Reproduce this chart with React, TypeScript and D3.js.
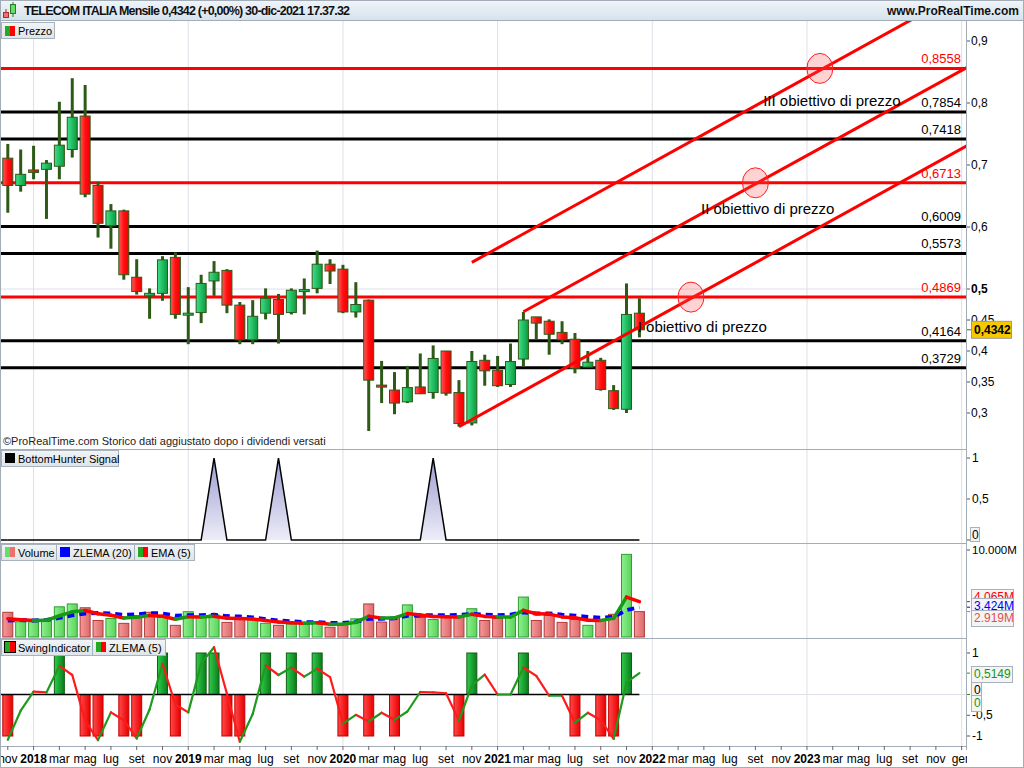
import React from 'react';
import * as d3 from 'd3';

const FONT = "'Liberation Sans', Arial, Helvetica, sans-serif";

// ---------- DATA ----------
const months = [
  'nov 2017','dic 2017',
  'gen 2018','feb 2018','mar 2018','apr 2018','mag 2018','giu 2018','lug 2018','ago 2018','set 2018','ott 2018','nov 2018','dic 2018',
  'gen 2019','feb 2019','mar 2019','apr 2019','mag 2019','giu 2019','lug 2019','ago 2019','set 2019','ott 2019','nov 2019','dic 2019',
  'gen 2020','feb 2020','mar 2020','apr 2020','mag 2020','giu 2020','lug 2020','ago 2020','set 2020','ott 2020','nov 2020','dic 2020',
  'gen 2021','feb 2021','mar 2021','apr 2021','mag 2021','giu 2021','lug 2021','ago 2021','set 2021','ott 2021','nov 2021','dic 2021',
];

const opens = [0.711,0.667,0.692,0.693,0.698,0.725,0.779,0.667,0.602,0.626,0.519,0.489,0.493,0.551,0.460,0.462,0.513,0.530,0.474,0.418,0.461,0.483,0.462,0.498,0.501,0.540,0.532,0.463,0.482,0.345,0.337,0.318,0.342,0.333,0.400,0.333,0.284,0.385,0.369,0.346,0.387,0.455,0.448,0.430,0.419,0.374,0.385,0.336,0.306,0.461];
const highs = [0.734,0.725,0.731,0.708,0.802,0.840,0.829,0.673,0.637,0.628,0.548,0.501,0.553,0.559,0.503,0.523,0.545,0.532,0.479,0.482,0.501,0.492,0.501,0.517,0.562,0.548,0.539,0.511,0.483,0.384,0.366,0.376,0.396,0.409,0.400,0.353,0.400,0.394,0.392,0.412,0.463,0.455,0.451,0.448,0.429,0.400,0.389,0.345,0.509,0.485];
const lows = [0.623,0.657,0.677,0.613,0.677,0.712,0.648,0.583,0.565,0.515,0.491,0.452,0.481,0.452,0.411,0.445,0.489,0.461,0.411,0.411,0.451,0.412,0.459,0.459,0.493,0.508,0.461,0.454,0.271,0.316,0.298,0.316,0.331,0.323,0.328,0.278,0.280,0.344,0.342,0.342,0.375,0.418,0.394,0.411,0.364,0.374,0.336,0.305,0.300,0.422];
const closes = [0.667,0.685,0.688,0.703,0.732,0.777,0.653,0.606,0.626,0.523,0.496,0.493,0.547,0.459,0.461,0.509,0.527,0.474,0.418,0.456,0.485,0.459,0.498,0.499,0.540,0.529,0.463,0.475,0.353,0.344,0.316,0.341,0.331,0.388,0.332,0.283,0.383,0.368,0.344,0.383,0.450,0.445,0.427,0.418,0.372,0.382,0.338,0.307,0.459,0.4342];

// volume in millions
const volumes = [2.84,1.75,1.75,1.94,3.47,3.8,3.36,1.9,2.13,1.57,2.46,2.84,2.24,1.34,2.91,2.24,2.54,1.68,2.09,1.94,1.57,1.34,1.49,1.46,1.75,1.12,1.46,2.09,3.8,1.72,2.24,3.69,2.24,2.01,2.24,2.24,3.25,1.9,2.13,2.31,4.59,1.9,2.54,1.68,2.01,1.34,1.9,2.61,9.5,2.919];
const volEma5 = [2.1,1.98,1.9,1.92,2.44,2.89,3.05,2.67,2.49,2.18,2.27,2.46,2.39,2.04,2.33,2.30,2.38,2.15,2.13,2.07,1.90,1.71,1.64,1.58,1.64,1.47,1.47,1.68,2.39,2.17,2.19,2.69,2.54,2.36,2.32,2.29,2.61,2.37,2.29,2.30,3.06,2.67,2.63,2.31,2.21,1.92,1.91,2.14,4.59,4.065];
const volZlema20 = [1.9,1.95,1.9,1.95,2.2,2.5,2.7,2.75,2.7,2.55,2.6,2.75,2.7,2.45,2.5,2.5,2.55,2.4,2.35,2.25,2.05,1.9,1.8,1.7,1.7,1.6,1.6,1.75,2.1,2.1,2.15,2.45,2.5,2.5,2.5,2.55,2.65,2.55,2.5,2.55,2.85,2.7,2.7,2.55,2.45,2.3,2.2,2.3,3.1,3.424];

const bottomHunter = [0,0,0,0,0,0,0,0,0,0,0,0,0,0,0,0,1,0,0,0,0,1,0,0,0,0,0,0,0,0,0,0,0,1,0,0,0,0,0,0,0,0,0,0,0,0,0,0,0,0];

const swingSignal = [-1,0,0,0,1,0,-1,-1,0,-1,-1,0,1,-1,0,1,1,-1,-1,0,1,0,1,0,1,0,-1,0,-1,0,-1,0,0,0,0,-1,1,0,0,0,1,0,0,0,-1,0,-1,-1,1,0];
const swingZlema5 = [-1.09,-0.39,0.07,0.05,0.69,0.47,-0.63,-1.10,-0.43,-0.62,-1.06,-0.36,0.74,-0.24,-0.43,0.75,1.14,0.02,-1.14,-0.47,0.70,0.47,0.65,0.43,0.62,0.42,-0.70,-0.49,-0.65,-0.44,-0.61,-0.41,0.06,0.05,0.03,-0.63,0.22,0.48,0.0,0.0,0.65,0.45,-0.03,-0.03,-0.68,-0.44,-0.62,-1.07,0.29,0.5149];

const levelValues = [0.8558,0.7854,0.7418,0.6713,0.6009,0.5573,0.4869,0.4164,0.3729];
const levelIsTarget = [true,false,false,true,false,false,true,false,false];

// channel lines: [monthIndex, price] start / end
const channelStart = [[35,0.2779],[40,0.4634],[36,0.543]];
const channelEnd = [[76,0.7494],[76,0.8756],[76,1.002]];

const targetIdx = [53,58,63];
const targetVal = [0.4869,0.6713,0.8558];
const targetTexts = ['I obiettivo di prezzo','II obiettivo di prezzo','III obiettivo di prezzo'];
const targetTextIdx = [48.87,53.78,58.6];
const targetTextVal = [0.4311,0.621,0.7952];

const priceTicks = [0.3,0.35,0.4,0.45,0.5,0.6,0.7,0.8,0.9];
const xTickIdx = d3.range(0, 75, 2);
const xTickLabels = ['nov','2018','mar','mag','lug','set','nov','2019','mar','mag','lug','set','nov','2020','mar','mag','lug','set','nov','2021','mar','mag','lug','set','nov','2022','mar','mag','lug','set','nov','2023','mar','mag','lug','set','nov','gen'];
const yearGridIdx = [2,14,26,38,50,62,74];

const lastPrice = 0.4342;

// ---------- LAYOUT ----------
const AX = 966;
const P_TOP = 21, P_BOT = 449;
const BH_TOP = 449;
const V_TOP = 543;
const S_TOP = 638, S_BOT = 746;

const x = d3.scaleLinear().domain([0, 74]).range([7.8, 7.8 + 74 * 12.89]);
const yP = d3.scaleLinear().domain([0.3, 0.9]).range([413, 41]);
const yBH = d3.scaleLinear().domain([0, 1]).range([540, 458]);
const yV = d3.scaleLinear().domain([0, 10]).range([637, 550]);
const yS = d3.scaleLinear().domain([-1, 1]).range([736, 653]);

const fmt = (v: number, d: number) => v.toFixed(d).replace('.', ',');
const GRID = '#dde0e7';
const FRAME = '#a3adb7';
const WICK = '#2e5a17';
const LEG_FS = 11;

function LegendBox({ x0, y0, w, children }: any) {
  return (
    <g>
      <rect x={x0 + 0.5} y={y0 + 0.5} width={w} height={16} fill="url(#legBg)" stroke="#a8b2bc" />
      {children}
    </g>
  );
}

function TwoColorIcon({ x0, y0, c1, c2 }: any) {
  return (
    <g>
      <rect x={x0} y={y0} width={5} height={10} fill={c1} />
      <rect x={x0 + 5} y={y0} width={5} height={10} fill={c2} />
    </g>
  );
}

function BoxLabel({ x0, yc, w, text, color, bold }: any) {
  return (
    <g>
      <rect x={x0 + 0.5} y={yc - 8 + 0.5} width={w} height={16} fill="#f4f4f4" stroke="#a8b2bc" />
      <text x={x0 + 3} y={yc + 4} fontSize={12} fill={color} fontWeight={bold ? 'bold' : 'normal'}>{text}</text>
    </g>
  );
}

export default function App() {
  const n = closes.length;
  const idx = d3.range(n);
  const lineGen = d3.line<[number, number]>();

  const bhArea = d3.area<number>().x((_, i) => x(i)).y0(yBH(0)).y1((d) => yBH(d))(bottomHunter) || '';
  const bhLine = d3.line<number>().x((_, i) => x(i)).y((d) => yBH(d))(bottomHunter) || '';
  const zlemaPath = d3.line<number>().x((_, i) => x(i)).y((d) => yV(d))(volZlema20) || '';

  return (
    <div style={{ position: 'absolute', left: 0, top: 0, width: 1024, height: 768, background: '#fff' }}>
      <svg width={1024} height={768} style={{ display: 'block', fontFamily: FONT }}>
        <defs>
          <linearGradient id="hdr" x1="0" y1="0" x2="0" y2="1">
            <stop offset="0" stopColor="#f0f5f9" />
            <stop offset="1" stopColor="#d6e3ed" />
          </linearGradient>
          <linearGradient id="legBg" x1="0" y1="0" x2="0" y2="1">
            <stop offset="0" stopColor="#f2f4f6" />
            <stop offset="1" stopColor="#dfe4e9" />
          </linearGradient>
          <linearGradient id="cUp" x1="0" y1="0" x2="1" y2="0">
            <stop offset="0" stopColor="#3ee08a" />
            <stop offset="1" stopColor="#0b9a3e" />
          </linearGradient>
          <linearGradient id="cDn" x1="0" y1="0" x2="1" y2="0">
            <stop offset="0" stopColor="#ff5a5a" />
            <stop offset="0.5" stopColor="#ff1010" />
            <stop offset="1" stopColor="#f00000" />
          </linearGradient>
          <linearGradient id="vUp" x1="0" y1="0" x2="1" y2="0">
            <stop offset="0" stopColor="#8ef08e" />
            <stop offset="1" stopColor="#5ad25a" />
          </linearGradient>
          <linearGradient id="vDn" x1="0" y1="0" x2="1" y2="0">
            <stop offset="0" stopColor="#f49a9a" />
            <stop offset="1" stopColor="#dc6a6a" />
          </linearGradient>
          <linearGradient id="sUp" x1="0" y1="0" x2="1" y2="0">
            <stop offset="0" stopColor="#2fcc4a" />
            <stop offset="1" stopColor="#0a7d1c" />
          </linearGradient>
          <linearGradient id="sDn" x1="0" y1="0" x2="1" y2="0">
            <stop offset="0" stopColor="#ff4a4a" />
            <stop offset="1" stopColor="#e80000" />
          </linearGradient>
          <linearGradient id="bhFill" x1="0" y1="0" x2="0" y2="1">
            <stop offset="0" stopColor="#9d9dd2" />
            <stop offset="1" stopColor="#ededf8" />
          </linearGradient>
          <clipPath id="clipP"><rect x={0} y={P_TOP} width={AX} height={P_BOT - P_TOP} /></clipPath>
          <clipPath id="clipAxis"><rect x={0} y={S_BOT} width={AX + 1} height={22} /></clipPath>
        </defs>

        {/* header */}
        <rect x={0} y={0} width={1024} height={20} fill="url(#hdr)" />
        <line x1={0} y1={20.5} x2={1024} y2={20.5} stroke={FRAME} />
        <g>
          <line x1={6} y1={9} x2={6} y2={18} stroke="#8a3030" />
          <rect x={3.5} y={12.5} width={5} height={5} fill="#f07070" stroke="#a03030" />
          <line x1={13} y1={2} x2={13} y2={17} stroke="#2a7a2a" />
          <rect x={10.5} y={4.5} width={5} height={9} fill="#66dd66" stroke="#2a7a2a" />
        </g>
        <text x={24} y={15} fontSize={12.5} fontWeight="bold" fill="#111" textLength={326} lengthAdjust="spacing">TELECOM ITALIA Mensile 0,4342 (+0,00%) 30-dic-2021 17.37.32</text>
        <text x={1019} y={15} fontSize={12} fontWeight="bold" fill="#111" textAnchor="end">www.ProRealTime.com</text>

        {/* vertical year grid */}
        {yearGridIdx.map((i) => (
          <line key={'g' + i} x1={x(i)} x2={x(i)} y1={P_TOP} y2={S_BOT} stroke={GRID} />
        ))}
        <line x1={0} x2={AX} y1={yP(0.5)} y2={yP(0.5)} stroke={GRID} />
        <line x1={x(n - 1)} x2={AX} y1={yS(0)} y2={yS(0)} stroke={GRID} />

        {/* ===== PRICE PANEL ===== */}
        <g clipPath="url(#clipP)">
          {levelValues.map((v, k) => (
            <line key={'lv' + k} x1={0} x2={AX} y1={yP(v)} y2={yP(v)} stroke={levelIsTarget[k] ? '#ff0000' : '#000'} strokeWidth={3} />
          ))}
          {idx.map((i) => {
            const o = opens[i], c = closes[i];
            const up = c >= o;
            const top = yP(Math.max(o, c));
            const bot = yP(Math.min(o, c));
            const h = Math.max(bot - top, 2);
            return (
              <g key={'c' + i}>
                <line x1={x(i)} x2={x(i)} y1={yP(highs[i])} y2={yP(lows[i])} stroke={WICK} strokeWidth={3} />
                <rect x={x(i) - 5} y={top} width={10} height={h} fill={up ? 'url(#cUp)' : 'url(#cDn)'} stroke={WICK} strokeWidth={1} />
              </g>
            );
          })}
          {channelStart.map((s, k) => (
            <path key={'ch' + k} d={lineGen([[x(s[0]), yP(s[1])], [x(channelEnd[k][0]), yP(channelEnd[k][1])]]) || ''} stroke="#ff0000" strokeWidth={3} fill="none" />
          ))}
          {targetIdx.map((t, k) => (
            <ellipse key={'tc' + k} cx={x(t)} cy={yP(targetVal[k])} rx={13} ry={15} fill="rgba(255,80,80,0.25)" stroke="#ff2020" strokeWidth={1} />
          ))}
          {targetTexts.map((t, k) => (
            <text key={'tt' + k} x={x(targetTextIdx[k])} y={yP(targetTextVal[k])} fontSize={15} fill="#000">{t}</text>
          ))}
          {levelValues.map((v, k) => (
            <text key={'ll' + k} x={961} y={yP(v) - 5} fontSize={13} textAnchor="end" fill={levelIsTarget[k] ? '#ff0000' : '#000'}>{fmt(v, 4)}</text>
          ))}
        </g>
        <LegendBox x0={1} y0={22} w={53}>
          <TwoColorIcon x0={5} y0={26} c1="#22aa22" c2="#ff0000" />
          <text x={18} y={35} fontSize={LEG_FS} fill="#000">Prezzo</text>
        </LegendBox>
        <text x={3} y={445} fontSize={11} fill="#222">©ProRealTime.com  Storico dati aggiustato dopo i dividendi versati</text>

        {/* price axis */}
        {priceTicks.map((v) => (
          <g key={'pt' + v}>
            <line x1={AX} x2={AX + 4} y1={yP(v)} y2={yP(v)} stroke="#555" />
            <text x={AX + 5} y={yP(v) + 4} fontSize={12} fill="#000" fontWeight={v === 0.5 ? 'bold' : 'normal'}>{fmt(v, v === 0.35 || v === 0.45 ? 2 : 1)}</text>
          </g>
        ))}
        <line x1={AX} x2={AX + 5} y1={yP(lastPrice)} y2={yP(lastPrice)} stroke="#555" />
        <rect x={971.5} y={yP(lastPrice) - 8.5} width={40} height={17} fill="#f6c800" stroke="#9a9a9a" />
        <text x={974} y={yP(lastPrice) + 4.5} fontSize={12} fontWeight="bold" fill="#000">{fmt(lastPrice, 4)}</text>

        {/* ===== BOTTOM HUNTER ===== */}
        <line x1={0} x2={AX} y1={BH_TOP + 0.5} y2={BH_TOP + 0.5} stroke={FRAME} />
        <path d={bhArea} fill="url(#bhFill)" />
        <path d={bhLine} fill="none" stroke="#000" strokeWidth={1.5} />
        <line x1={0} x2={x(0)} y1={yBH(0)} y2={yBH(0)} stroke="#000" strokeWidth={1.5} />
        <LegendBox x0={1} y0={450} w={117}>
          <rect x={5} y={453} width={10} height={10} fill="#000" />
          <text x={18} y={463} fontSize={LEG_FS} fill="#000">BottomHunter Signal</text>
        </LegendBox>
        {[1, 0.5].map((v) => (
          <g key={'bt' + v}>
            <line x1={AX} x2={AX + 4} y1={yBH(v)} y2={yBH(v)} stroke="#555" />
            <text x={AX + 6} y={yBH(v) + 4} fontSize={12} fill="#000">{v === 1 ? '1' : '0,5'}</text>
          </g>
        ))}
        <line x1={AX} x2={AX + 4} y1={yBH(0)} y2={yBH(0)} stroke="#555" />
        <rect x={AX + 4.5} y={527.5} width={9} height={14} fill="#f4f4f4" stroke="#a8b2bc" />
        <text x={AX + 6} y={539} fontSize={12} fill="#000">0</text>

        {/* ===== VOLUME ===== */}
        <line x1={0} x2={AX} y1={V_TOP + 0.5} y2={V_TOP + 0.5} stroke={FRAME} />
        {idx.map((i) => {
          const up = closes[i] >= (i > 0 ? closes[i - 1] : opens[i]);
          return (
            <rect key={'v' + i} x={x(i) - 5} y={yV(volumes[i])} width={10} height={yV(0) - yV(volumes[i])}
              fill={up ? 'url(#vUp)' : 'url(#vDn)'} stroke={up ? '#2f9f2f' : '#b03a3a'} strokeWidth={1} />
          );
        })}
        <path d={zlemaPath} fill="none" stroke="#0000ff" strokeWidth={4} strokeDasharray="7 5" />
        {idx.slice(1).map((i) => (
          <path key={'e' + i} d={lineGen([[x(i - 1), yV(volEma5[i - 1])], [x(i), yV(volEma5[i])]]) || ''}
            stroke={volEma5[i] >= volEma5[i - 1] ? '#159a15' : '#ff0000'} strokeWidth={3.5} fill="none" strokeLinecap="round" />
        ))}
        <LegendBox x0={1} y0={544} w={55}>
          <TwoColorIcon x0={5} y0={547} c1="#66dd66" c2="#ee7070" />
          <text x={18} y={557} fontSize={LEG_FS} fill="#000">Volume</text>
        </LegendBox>
        <LegendBox x0={56} y0={544} w={78}>
          <rect x={60} y={547} width={10} height={10} fill="#0000ff" />
          <text x={73} y={557} fontSize={LEG_FS} fill="#000">ZLEMA (20)</text>
        </LegendBox>
        <LegendBox x0={134} y0={544} w={60}>
          <TwoColorIcon x0={138} y0={547} c1="#22aa22" c2="#ff0000" />
          <text x={151} y={557} fontSize={LEG_FS} fill="#000">EMA (5)</text>
        </LegendBox>
        <line x1={AX} x2={AX + 4} y1={yV(10)} y2={yV(10)} stroke="#555" />
        <text x={AX + 6} y={yV(10) + 4} fontSize={11.5} fill="#000">10.000M</text>
        <line x1={AX} x2={AX + 4} y1={yV(4.065)} y2={yV(4.065)} stroke="#ff0000" />
        <line x1={AX} x2={AX + 4} y1={yV(3.424)} y2={yV(3.424)} stroke="#0000ff" />
        <line x1={AX} x2={AX + 4} y1={yV(2.919)} y2={yV(2.919)} stroke="#e06060" />
        <BoxLabel x0={AX + 5} yc={597} w={42} text="4.065M" color="#ff0000" />
        <BoxLabel x0={AX + 5} yc={606} w={42} text="3.424M" color="#0000ff" />
        <BoxLabel x0={AX + 5} yc={618} w={42} text="2.919M" color="#e05050" />

        {/* ===== SWING ===== */}
        <line x1={0} x2={AX} y1={S_TOP + 0.5} y2={S_TOP + 0.5} stroke={FRAME} />
        {idx.map((i) => swingSignal[i] === 0 ? null : (
          <rect key={'s' + i} x={x(i) - 5} y={Math.min(yS(swingSignal[i]), yS(0))} width={10}
            height={Math.abs(yS(swingSignal[i]) - yS(0))}
            fill={swingSignal[i] > 0 ? 'url(#sUp)' : 'url(#sDn)'} stroke={swingSignal[i] > 0 ? '#145c14' : '#c00000'} strokeWidth={1} />
        ))}
        <line x1={0} x2={x(n - 1)} y1={yS(0)} y2={yS(0)} stroke="#000" strokeWidth={1.5} />
        {idx.slice(1).map((i) => (
          <path key={'sz' + i} d={lineGen([[x(i - 1), yS(swingZlema5[i - 1])], [x(i), yS(swingZlema5[i])]]) || ''}
            stroke={swingZlema5[i] >= swingZlema5[i - 1] ? '#1f9a1f' : '#ff1a1a'} strokeWidth={2.2} fill="none" strokeLinecap="round" />
        ))}
        <LegendBox x0={1} y0={639} w={91}>
          <TwoColorIcon x0={5} y0={642} c1="#22aa22" c2="#ff0000" />
          <rect x={4.5} y={641.5} width={11} height={11} fill="none" stroke="#000" />
          <text x={18} y={652} fontSize={LEG_FS} fill="#000">SwingIndicator</text>
        </LegendBox>
        <LegendBox x0={92} y0={639} w={73}>
          <TwoColorIcon x0={96} y0={642} c1="#22aa22" c2="#ff0000" />
          <text x={109} y={652} fontSize={LEG_FS} fill="#000">ZLEMA (5)</text>
        </LegendBox>
        {[1, -0.5, -1].map((v) => (
          <g key={'st' + v}>
            <line x1={AX} x2={AX + 4} y1={yS(v)} y2={yS(v)} stroke="#555" />
            <text x={AX + 6} y={yS(v) + 4} fontSize={12} fill="#000">{v === 1 ? '1' : v === -1 ? '-1' : '-0,5'}</text>
          </g>
        ))}
        <line x1={AX} x2={AX + 4} y1={yS(0.5149)} y2={yS(0.5149)} stroke="#1f9a1f" />
        <line x1={AX} x2={AX + 4} y1={yS(0)} y2={yS(0)} stroke="#1f9a1f" />
        <BoxLabel x0={AX + 5} yc={674} w={41} text="0,5149" color="#119911" />
        <BoxLabel x0={AX + 5} yc={690} w={10} text="0" color="#000" />
        <BoxLabel x0={AX + 5} yc={703} w={10} text="0" color="#119911" />

        {/* ===== X AXIS ===== */}
        <line x1={0} x2={AX} y1={S_BOT + 0.5} y2={S_BOT + 0.5} stroke={FRAME} />
        <g clipPath="url(#clipAxis)">
          {xTickIdx.map((i, k) => (
            <g key={'xt' + i}>
              <line x1={x(i)} x2={x(i)} y1={S_BOT} y2={S_BOT + 4} stroke="#666" />
              <text x={x(i)} y={763} fontSize={12} textAnchor="middle" fill="#000"
                fontWeight={/^\d+$/.test(xTickLabels[k]) ? 'bold' : 'normal'}>{xTickLabels[k]}</text>
            </g>
          ))}
        </g>

        {/* right axis line + frame */}
        <line x1={AX + 0.5} x2={AX + 0.5} y1={P_TOP} y2={S_BOT + 4} stroke={FRAME} />
        <rect x={0.5} y={0.5} width={1023} height={767} fill="none" stroke={FRAME} />
      </svg>
    </div>
  );
}
